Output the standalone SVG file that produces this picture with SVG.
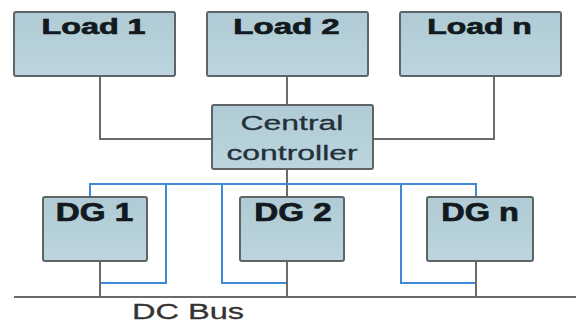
<svg xmlns="http://www.w3.org/2000/svg" width="576" height="325" viewBox="0 0 576 325">
  <style>
    .box { fill: url(#boxFill); stroke: #5f6466; stroke-width: 2; }
    text { font-family: "Liberation Sans", Arial, sans-serif; text-anchor: middle; }
    .lbl { font-size: 22px; font-weight: bold; fill: #121a20; stroke: #121a20; stroke-width: 0.7; }
    .dg { font-size: 25px; }
    .lblr { font-size: 21px; fill: #22303a; stroke: #22303a; stroke-width: 0.3; }
    .bus { font-size: 22px; fill: #333333; stroke: #333333; }
    .wire { fill: none; stroke: #6b6b6b; stroke-width: 2; }
    .sig { fill: none; stroke: #3d8ad6; stroke-width: 2; }
  </style>
  <defs>
    <linearGradient id="boxFill" x1="0" y1="0" x2="0" y2="1">
      <stop offset="0" stop-color="#b0cbd5"/>
      <stop offset="1" stop-color="#bcd5de"/>
    </linearGradient>
  </defs>
  <rect width="576" height="325" fill="#ffffff"/>

  <!-- connectors -->
  <g id="connectors">
    <!-- loads to controller -->
    <path class="wire" d="M100 76 V139 H212"/>
    <path class="wire" d="M287 76 V105"/>
    <path class="wire" d="M494 76 V139 H373"/>
    <!-- controller down to DG 2 -->
    <path class="wire" d="M287 169 V197"/>
    <!-- control/measurement loops -->
    <path class="sig" d="M90 197 V184 H476 V197"/>
    <path class="sig" d="M166 184 V283 H100"/>
    <path class="sig" d="M222 184 V283 H287"/>
    <path class="sig" d="M401 184 V283 H476"/>
    <!-- generators to bus -->
    <path class="wire" d="M100 261 V297"/>
    <path class="wire" d="M287 261 V297"/>
    <path class="wire" d="M476 261 V297"/>
    <!-- DC bus -->
    <path class="wire" d="M14 297 H576"/>
  </g>

  <g id="load1">
    <rect class="box" x="14" y="12" width="161" height="64" rx="2"/>
    <text class="lbl" transform="translate(93.5 34) scale(1.47 1)">Load 1</text>
  </g>
  <g id="load2">
    <rect class="box" x="207" y="12" width="161" height="64" rx="2"/>
    <text class="lbl" transform="translate(286.5 34) scale(1.5 1)">Load 2</text>
  </g>
  <g id="loadn">
    <rect class="box" x="400" y="12" width="161" height="64" rx="2"/>
    <text class="lbl" transform="translate(479.5 34) scale(1.45 1)">Load n</text>
  </g>
  <g id="controller">
    <rect class="box" x="212" y="105" width="161" height="64" rx="2"/>
    <text class="lblr" transform="translate(292 130) scale(1.52 1)">Central</text>
    <text class="lblr" transform="translate(292 160) scale(1.52 1)">controller</text>
  </g>
  <g id="dg1">
    <rect class="box" x="43" y="197" width="104" height="64" rx="2"/>
    <text class="lbl dg" transform="translate(94.5 221) scale(1.33 1)">DG 1</text>
  </g>
  <g id="dg2">
    <rect class="box" x="240" y="197" width="104" height="64" rx="2"/>
    <text class="lbl dg" transform="translate(293 221) scale(1.33 1)">DG 2</text>
  </g>
  <g id="dgn">
    <rect class="box" x="427" y="197" width="106" height="64" rx="2"/>
    <text class="lbl dg" transform="translate(480 221) scale(1.3 1)">DG n</text>
  </g>
  <g id="bus-label">
    <text class="lblr bus" transform="translate(188 319) scale(1.48 1)">DC Bus</text>
  </g>
</svg>
